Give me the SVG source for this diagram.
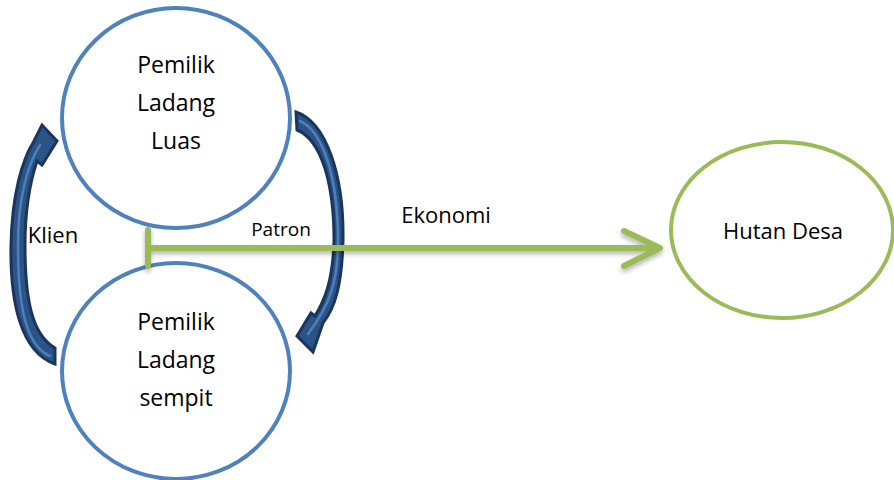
<svg xmlns="http://www.w3.org/2000/svg" width="894" height="480" viewBox="0 0 894 480">
<defs>
<style>
.blue{fill:#fff;stroke:#4f81bd;stroke-width:4}
.green{fill:#fff;stroke:#9bbb59;stroke-width:4}
.t{font-family:"Open Sans","Liberation Sans",sans-serif;fill:#000;text-anchor:middle}
.ct{font-size:23px}
.arr{fill:#2b5385;stroke:#1b365d;stroke-width:3;stroke-linejoin:miter}
.hl{fill:none;stroke:#4f7fb9;stroke-width:2.5;stroke-linecap:round}
.gl{fill:none;stroke:#9bbb59;stroke-width:6;stroke-linecap:round;stroke-linejoin:round}
</style>
<filter id="sh" x="-5%" y="-50%" width="110%" height="200%">
<feDropShadow dx="0" dy="3" stdDeviation="2.5" flood-color="#000" flood-opacity="0.3"/>
</filter>
</defs>
<rect width="894" height="480" fill="#fff"/>
<g id="node-luas">
<ellipse class="blue" cx="176" cy="118" rx="114" ry="110"/>
<text class="t ct" x="176" y="73">Pemilik</text>
<text class="t ct" x="176" y="111">Ladang</text>
<text class="t ct" x="176" y="149">Luas</text>
</g>
<g id="node-sempit">
<ellipse class="blue" cx="176" cy="371" rx="114" ry="108"/>
<text class="t ct" x="176" y="330">Pemilik</text>
<text class="t ct" x="176" y="368">Ladang</text>
<text class="t ct" x="176" y="406">sempit</text>
</g>
<g id="node-hutan">
<ellipse class="green" cx="782" cy="230" rx="111" ry="88"/>
<text class="t" font-size="22" x="783" y="239">Hutan Desa</text>
</g>
<g id="connectors">
<g id="klien">
<path class="arr" d="M55,364 C20,352 10,300 11,245 C12,195 22,160 34,141 L42,125 L57,141 L42,165 L37,161 C29,185 25,215 25,245 C25,300 32,335 55,348 Z"/>
<path class="hl" d="M50,356 C24,345 18,300 18,245 C18,200 27,165 40,145"/>
<text class="t" font-size="22" x="53" y="243">Klien</text>
</g>
<g id="patron">
<path class="arr" d="M296,112 C326,122 344,175 343,240 C342,285 335,308 323,323 L313,352 L297,336 L311,313 L315,316 C325,300 333,280 334,240 C334,185 322,140 297,130 Z"/>
<path class="hl" d="M300,121 C324,132 338,180 338,240 C338,282 330,305 308,334"/>
<text class="t" font-size="19" x="281" y="236">Patron</text>
</g>
<g id="ekonomi" filter="url(#sh)">
<path class="gl" d="M148,230 L148,266 M148,248 L658,248 M624,231 L660,248 L624,266"/>
</g>
<text class="t" font-size="22" x="446" y="223">Ekonomi</text>
</g>
</svg>
